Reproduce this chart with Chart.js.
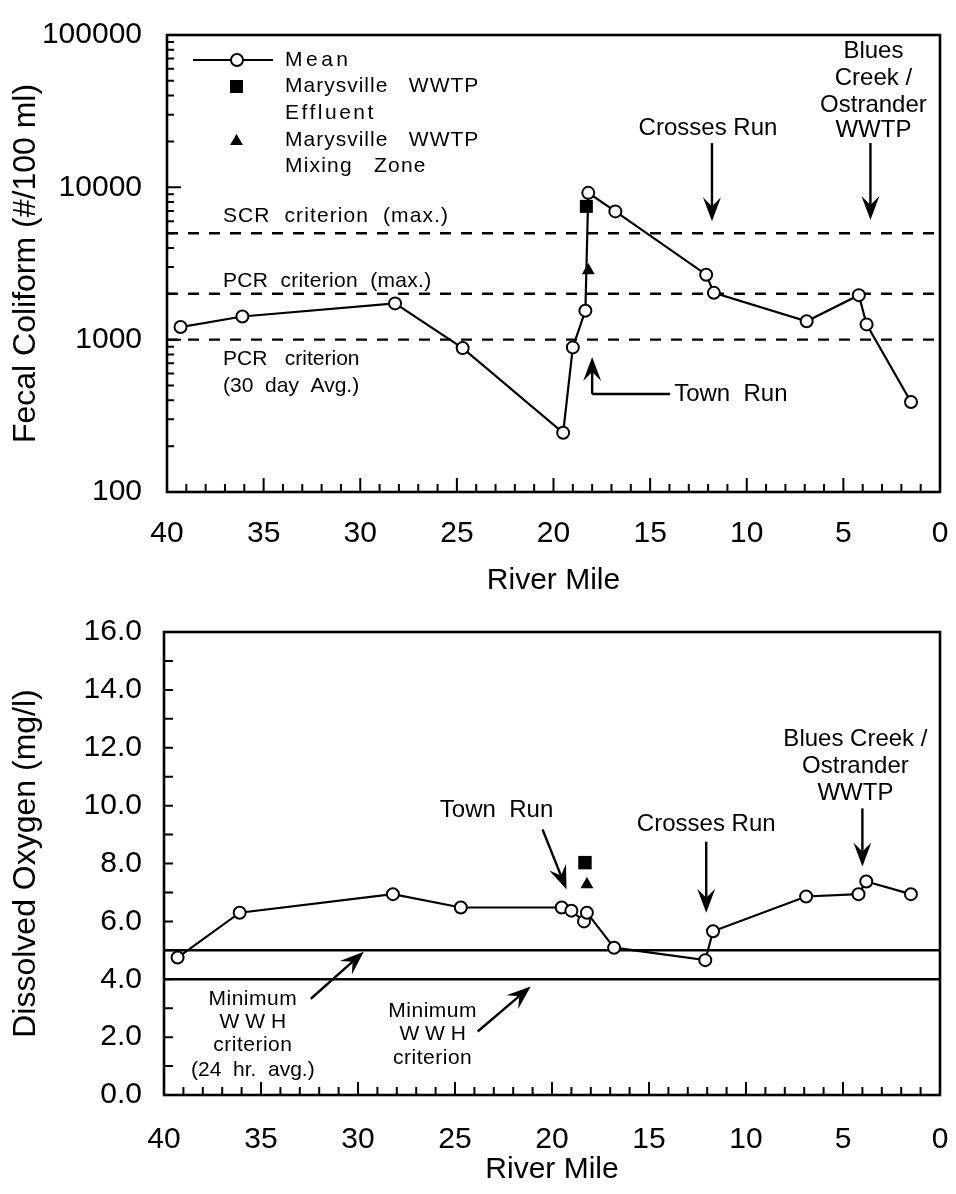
<!DOCTYPE html>
<html>
<head>
<meta charset="utf-8">
<title>Fecal Coliform and Dissolved Oxygen by River Mile</title>
<script src="https://cdn.jsdelivr.net/npm/chart.js@4.4.1/dist/chart.umd.min.js"></script>
<style>
  html, body { margin: 0; padding: 0; background: #fff; }
  #wrap { position: relative; width: 956px; height: 1194px; }
  canvas { position: absolute; left: 0; }
  #fecalChart { top: 0; }
  #oxygenChart { top: 600px; }
</style>
</head>
<body>
<div id="wrap">
  <canvas id="fecalChart" width="956" height="600"></canvas>
  <canvas id="oxygenChart" width="956" height="594"></canvas>
</div>
<script>

// ------------------------------
// Sampling data
// ------------------------------

const riverMile  = [39.3, 36.1, 28.2, 24.7, 19.5, 19.0, 18.35, 18.2, 16.8, 12.1, 11.7, 6.9, 4.2, 3.8, 1.5];
const fecalMean  = [1210, 1420, 1730, 880, 245, 890, 1550, 9200, 6950, 2670, 2030, 1320, 1960, 1260, 390];
const oxygenMean = [4.75, 6.3, 6.94, 6.48, 6.48, 6.37, 6.0, 6.3, 5.09, 4.66, 5.66, 6.86, 6.94, 7.38, 6.94];

const effluentMile   = [18.3];
const effluentFecal  = [7500];
const effluentOxygen = [8.03];

const mixingMile   = [18.2];
const mixingFecal  = [2850];
const mixingOxygen = [7.27];

// criteria (SCR max, PCR max, PCR 30 day avg) and (WWH 24 hr avg, WWH minimum)
const fecalCriteria  = [5000, 2000, 1000];
const oxygenCriteria = [5.0, 4.0];

// tick labels
const mileTicks   = [40, 35, 30, 25, 20, 15, 10, 5, 0];
const fecalTicks  = [100, 1000, 10000, 100000];
const oxygenTicks = [0, 2, 4, 6, 8, 10, 12, 14, 16];

// ------------------------------
// Helpers
// ------------------------------

const FONT = '"Liberation Sans", Arial, Helvetica, sans-serif';

Chart.defaults.font.family = FONT;
Chart.defaults.color = "#000";

function pts(xs, ys){
    return xs.map(function(x, i){ return { x: x, y: ys[i] }; });
}

function flat(value){
    return [
        { x: mileTicks[0], y: value },
        { x: mileTicks[mileTicks.length - 1], y: value }
    ];
}

function text(ctx, str, x, y, size, align, spacing){
    ctx.font = size + "px " + FONT;
    ctx.letterSpacing = (spacing || 0) + "px";
    ctx.textAlign = align || "center";
    ctx.textBaseline = "middle";
    ctx.fillStyle = "#000";
    ctx.fillText(str, x, y);
    ctx.letterSpacing = "0px";
}

// shaft plus barbed head, drawn from tail (x1,y1) to tip (x2,y2)
function arrow(ctx, x1, y1, x2, y2){
    const ang = Math.atan2(y2 - y1, x2 - x1);
    const c = Math.cos(ang), s = Math.sin(ang);
    const len = 24, half = 9, notch = 15;

    ctx.beginPath();
    ctx.moveTo(x1, y1);
    ctx.lineTo(x2 - notch * c, y2 - notch * s);
    ctx.stroke();

    ctx.beginPath();
    ctx.moveTo(x2, y2);
    ctx.lineTo(x2 - len * c - half * s, y2 - len * s + half * c);
    ctx.lineTo(x2 - notch * c, y2 - notch * s);
    ctx.lineTo(x2 - len * c + half * s, y2 - len * s - half * c);
    ctx.closePath();
    ctx.fill();
}

// box around the plot and inward tick marks
function makeFrame(cfg){
    return {
        id: "frame",
        afterDraw: function(chart){
            const ctx = chart.ctx, a = chart.chartArea;
            const xs = chart.scales.x, ys = chart.scales.y;
            ctx.save();
            ctx.strokeStyle = "#000";
            ctx.lineWidth = 2;
            ctx.beginPath();
            xs.ticks.forEach(function(t){
                const px = xs.getPixelForValue(t.value);
                const len = t.value % 5 === 0 ? cfg.xMajor : cfg.xMinor;
                ctx.moveTo(px, a.bottom);
                ctx.lineTo(px, a.bottom - len);
            });
            ys.ticks.forEach(function(t){
                const py = ys.getPixelForValue(t.value);
                const len = cfg.yMajorValues.includes(t.value) ? cfg.yMajor : cfg.yMinor;
                ctx.moveTo(a.left, py);
                ctx.lineTo(a.left + len, py);
            });
            ctx.stroke();
            ctx.lineWidth = 2.6;
            ctx.strokeRect(a.left, a.top, a.right - a.left, a.bottom - a.top);
            ctx.restore();
        }
    };
}

function mileTickList(){
    const list = [];
    for(let m = 0; m <= 40; m++){ list.push({ value: m }); }
    return list;
}

function xAxis(labelPad, height, titlePad){
    return {
        type: "linear",
        min: 0,
        max: 40,
        reverse: true,
        grid: { display: false },
        border: { display: false },
        afterBuildTicks: function(scale){ scale.ticks = mileTickList(); },
        afterFit: function(scale){ scale.height = height; },
        ticks: {
            autoSkip: false,
            maxRotation: 0,
            padding: labelPad,
            font: { size: 30 },
            callback: function(v){ return mileTicks.includes(v) ? String(v) : ""; }
        },
        title: {
            display: true,
            text: "River Mile",
            font: { size: 30 },
            padding: { top: 0, bottom: titlePad }
        }
    };
}

// ------------------------------
// Fecal Coliform annotations
// ------------------------------

const fecalNotes = {
    id: "fecalNotes",
    afterDraw: function(chart){
        const ctx = chart.ctx, a = chart.chartArea;
        const xs = chart.scales.x, ys = chart.scales.y;
        const lx = a.left, ly = a.top;

        ctx.save();
        ctx.strokeStyle = "#000";
        ctx.fillStyle = "#000";
        ctx.lineWidth = 2.2;

        // legend
        ctx.beginPath();
        ctx.moveTo(lx + 26, ly + 25);
        ctx.lineTo(lx + 106, ly + 25);
        ctx.stroke();
        ctx.beginPath();
        ctx.arc(lx + 70, ly + 25, 6, 0, Math.PI * 2);
        ctx.fillStyle = "#fff";
        ctx.fill();
        ctx.lineWidth = 2;
        ctx.stroke();
        ctx.fillStyle = "#000";
        ctx.fillRect(lx + 63, ly + 45, 13, 13);
        ctx.beginPath();
        ctx.moveTo(lx + 69.5, ly + 99);
        ctx.lineTo(lx + 76, ly + 110);
        ctx.lineTo(lx + 63, ly + 110);
        ctx.closePath();
        ctx.fill();

        text(ctx, "Mean", lx + 118, ly + 25, 21, "left", 3.5);
        text(ctx, "Marysville   WWTP", lx + 118, ly + 51, 21, "left", 1);
        text(ctx, "Effluent", lx + 118, ly + 78, 21, "left", 2.5);
        text(ctx, "Marysville   WWTP", lx + 118, ly + 105, 21, "left", 1);
        text(ctx, "Mixing   Zone", lx + 118, ly + 131, 21, "left", 1.2);

        // criterion labels
        text(ctx, "SCR  criterion  (max.)", lx + 56, ys.getPixelForValue(fecalCriteria[0]) - 17, 21, "left", 1.1);
        text(ctx, "PCR  criterion  (max.)", lx + 56, ys.getPixelForValue(fecalCriteria[1]) - 13, 21, "left", 0.3);
        text(ctx, "PCR   criterion", lx + 56, ys.getPixelForValue(fecalCriteria[2]) + 20, 21, "left");
        text(ctx, "(30  day  Avg.)", lx + 56, ys.getPixelForValue(fecalCriteria[2]) + 46.5, 21, "left");

        ctx.lineWidth = 2.4;

        // Crosses Run
        let tx = xs.getPixelForValue(11.8), ty = ys.getPixelForValue(6000);
        arrow(ctx, tx, ty - 78, tx, ty);
        text(ctx, "Crosses Run", tx - 4, ty - 93, 24, "center");

        // Blues Creek / Ostrander WWTP
        tx = xs.getPixelForValue(3.6); ty = ys.getPixelForValue(6100);
        arrow(ctx, tx, ty - 77, tx, ty);
        text(ctx, "Blues", tx + 3, ty - 168.5, 24, "center");
        text(ctx, "Creek /", tx + 3, ty - 142, 24, "center");
        text(ctx, "Ostrander", tx + 3, ty - 115, 24, "center");
        text(ctx, "WWTP", tx + 3, ty - 90, 24, "center");

        // Town Run (elbow arrow)
        tx = xs.getPixelForValue(18.0); ty = ys.getPixelForValue(770);
        ctx.beginPath();
        ctx.moveTo(tx + 78, ty + 37);
        ctx.lineTo(tx, ty + 37);
        ctx.stroke();
        arrow(ctx, tx, ty + 37, tx, ty);
        text(ctx, "Town  Run", tx + 82, ty + 37, 24, "left");

        ctx.restore();
    }
};

// ------------------------------
// Dissolved Oxygen annotations
// ------------------------------

const oxygenNotes = {
    id: "oxygenNotes",
    afterDraw: function(chart){
        const ctx = chart.ctx;
        const xs = chart.scales.x, ys = chart.scales.y;

        ctx.save();
        ctx.strokeStyle = "#000";
        ctx.fillStyle = "#000";
        ctx.lineWidth = 2.4;

        // Town Run
        let tx = xs.getPixelForValue(19.25), ty = ys.getPixelForValue(7.1);
        arrow(ctx, tx - 24, ty - 60, tx, ty);
        text(ctx, "Town  Run", tx - 70, ty - 79, 24, "center");

        // Crosses Run
        tx = xs.getPixelForValue(12.05); ty = ys.getPixelForValue(6.3);
        arrow(ctx, tx, ty - 71, tx, ty);
        text(ctx, "Crosses Run", tx, ty - 88, 24, "center");

        // Blues Creek / Ostrander WWTP
        tx = xs.getPixelForValue(4.0); ty = ys.getPixelForValue(7.9);
        arrow(ctx, tx, ty - 58, tx, ty);
        text(ctx, "Blues Creek /", tx - 7, ty - 127, 24, "center");
        text(ctx, "Ostrander", tx - 7, ty - 100, 24, "center");
        text(ctx, "WWTP", tx - 7, ty - 73, 24, "center");

        // 24 hr average criterion
        tx = xs.getPixelForValue(29.7); ty = ys.getPixelForValue(4.95);
        arrow(ctx, tx - 53, ty + 47, tx, ty);
        text(ctx, "Minimum", tx - 111, ty + 47, 21, "center", 0.5);
        text(ctx, "W W H", tx - 111, ty + 70, 21, "center");
        text(ctx, "criterion", tx - 111, ty + 93, 21, "center", 0.5);
        text(ctx, "(24  hr.  avg.)", tx - 111, ty + 118, 21, "center");

        // minimum criterion
        tx = xs.getPixelForValue(21.1); ty = ys.getPixelForValue(3.75);
        arrow(ctx, tx - 53, ty + 45, tx, ty);
        text(ctx, "Minimum", tx - 98, ty + 25, 21, "center", 0.5);
        text(ctx, "W W H", tx - 98, ty + 48, 21, "center");
        text(ctx, "criterion", tx - 98, ty + 72, 21, "center", 0.5);

        ctx.restore();
    }
};

// ------------------------------
// Fecal Coliform Chart
// ------------------------------

const meanStyle = {
    borderColor: "#000",
    borderWidth: 2.2,
    pointRadius: 6,
    pointBackgroundColor: "#fff",
    pointBorderColor: "#000",
    pointBorderWidth: 2,
    tension: 0
};

const fecalCtx = document.getElementById("fecalChart");

new Chart(fecalCtx, {
    type: "line",
    data: {
        datasets: [
            {
                label: "Marysville WWTP Effluent",
                data: pts(effluentMile, effluentFecal),
                showLine: false,
                pointStyle: "rect",
                pointRadius: 9.2,
                pointBackgroundColor: "#000",
                pointBorderWidth: 0
            },
            {
                label: "Marysville WWTP Mixing Zone",
                data: pts(mixingMile, mixingFecal),
                showLine: false,
                pointStyle: "triangle",
                pointRadius: 7.5,
                pointBackgroundColor: "#000",
                pointBorderWidth: 0
            },
            Object.assign({ label: "Mean", data: pts(riverMile, fecalMean) }, meanStyle)
        ].concat(fecalCriteria.map(function(c){
            return {
                label: "criterion " + c,
                data: flat(c),
                borderColor: "#000",
                borderWidth: 2.4,
                borderDash: [11, 10],
                pointRadius: 0
            };
        }))
    },
    options: {
        responsive: false,
        animation: false,
        devicePixelRatio: 1,
        events: [],
        layout: { padding: { top: 27, right: 16, left: 0, bottom: 0 } },
        plugins: { legend: { display: false }, tooltip: { enabled: false } },
        scales: {
            x: xAxis(16, 108, 1),
            y: {
                type: "logarithmic",
                min: 100,
                max: 100000,
                grid: { display: false },
                border: { display: false },
                afterBuildTicks: function(scale){
                    const list = [];
                    for(let d = 100; d < 100000; d *= 10){
                        for(let m = 1; m < 10; m++){ list.push({ value: d * m }); }
                    }
                    list.push({ value: 100000 });
                    scale.ticks = list;
                },
                afterFit: function(scale){ scale.width = 167; },
                ticks: {
                    autoSkip: false,
                    padding: 17,
                    font: { size: 30 },
                    callback: function(v){ return fecalTicks.includes(v) ? String(v) : ""; }
                },
                title: {
                    display: true,
                    text: "Fecal Coliform (#/100 ml)",
                    font: { size: 32 },
                    padding: { top: 7, bottom: 0 }
                }
            }
        }
    },
    plugins: [
        makeFrame({ xMajor: 14, xMinor: 8, yMajor: 14, yMinor: 7, yMajorValues: fecalTicks }),
        fecalNotes
    ]
});

// ------------------------------
// Dissolved Oxygen Chart
// ------------------------------

const oxygenCtx = document.getElementById("oxygenChart");

new Chart(oxygenCtx, {
    type: "line",
    data: {
        datasets: [
            {
                label: "Marysville WWTP Effluent",
                data: pts(effluentMile, effluentOxygen),
                showLine: false,
                pointStyle: "rect",
                pointRadius: 9.5,
                pointBackgroundColor: "#000",
                pointBorderWidth: 0
            },
            {
                label: "Marysville WWTP Mixing Zone",
                data: pts(mixingMile, mixingOxygen),
                showLine: false,
                pointStyle: "triangle",
                pointRadius: 7.5,
                pointBackgroundColor: "#000",
                pointBorderWidth: 0
            },
            Object.assign({ label: "Mean", data: pts(riverMile, oxygenMean) }, meanStyle)
        ].concat(oxygenCriteria.map(function(c){
            return {
                label: "criterion " + c,
                data: flat(c),
                borderColor: "#000",
                borderWidth: 2.6,
                pointRadius: 0
            };
        }))
    },
    options: {
        responsive: false,
        animation: false,
        devicePixelRatio: 1,
        events: [],
        layout: { padding: { top: 27, right: 16, left: 0, bottom: 0 } },
        plugins: { legend: { display: false }, tooltip: { enabled: false } },
        scales: {
            x: xAxis(19, 99, 6),
            y: {
                type: "linear",
                min: 0,
                max: 16,
                grid: { display: false },
                border: { display: false },
                afterBuildTicks: function(scale){
                    const list = [];
                    for(let v = 0; v <= 16; v++){ list.push({ value: v }); }
                    scale.ticks = list;
                },
                afterFit: function(scale){ scale.width = 164; },
                ticks: {
                    autoSkip: false,
                    padding: 14,
                    font: { size: 30 },
                    callback: function(v){ return oxygenTicks.includes(v) ? v.toFixed(1) : ""; }
                },
                title: {
                    display: true,
                    text: "Dissolved Oxygen (mg/l)",
                    font: { size: 32 },
                    padding: { top: 7, bottom: 0 }
                }
            }
        }
    },
    plugins: [
        makeFrame({ xMajor: 13, xMinor: 8, yMajor: 9, yMinor: 9, yMajorValues: oxygenTicks }),
        oxygenNotes
    ]
});

</script>
</body>
</html>
